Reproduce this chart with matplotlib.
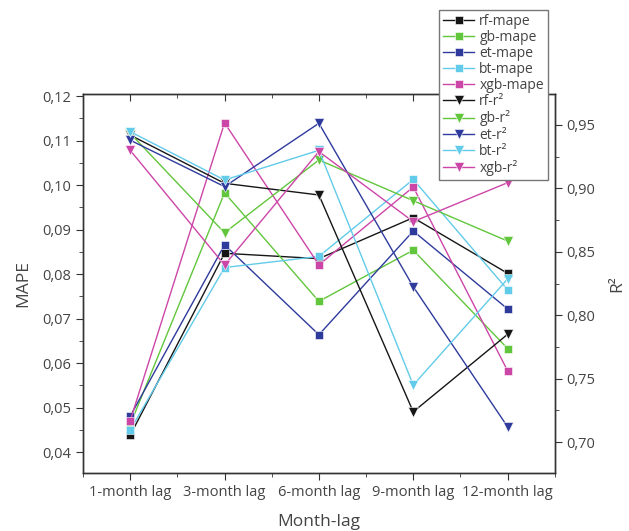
import matplotlib.pyplot as plt
from matplotlib.ticker import FuncFormatter, MultipleLocator

plt.rcParams['font.family'] = ['Open Sans', 'DejaVu Sans']

lags = ['1-month lag', '3-month lag', '6-month lag', '9-month lag', '12-month lag']
models = ['rf', 'gb', 'et', 'bt', 'xgb']
colors = ['#161616', '#62c63c', '#2e3b9c', '#62cbe9', '#cc46a8']

# MAPE (left axis)
rf_mape = [0.0438, 0.0847, 0.0835, 0.0927, 0.0802]
gb_mape = [0.0462, 0.0983, 0.0739, 0.0854, 0.0633]
et_mape = [0.0481, 0.0866, 0.0664, 0.0897, 0.0722]
bt_mape = [0.0450, 0.0815, 0.0840, 0.1013, 0.0765]
xgb_mape = [0.0471, 0.1140, 0.0821, 0.0996, 0.0583]

# R2 (right axis)
rf_r2 = [0.9420, 0.9040, 0.8948, 0.7239, 0.7850]
gb_r2 = [0.9434, 0.8650, 0.9224, 0.8903, 0.8585]
et_r2 = [0.9380, 0.9014, 0.9513, 0.8225, 0.7121]
bt_r2 = [0.9447, 0.9066, 0.9300, 0.7450, 0.8286]
xgb_r2 = [0.9300, 0.8396, 0.9290, 0.8738, 0.9045]

mape = [rf_mape, gb_mape, et_mape, bt_mape, xgb_mape]
r2 = [rf_r2, gb_r2, et_r2, bt_r2, xgb_r2]

x = list(range(1, len(lags) + 1))
tc = '#444444'

fig = plt.figure(figsize=(6.29, 5.31), dpi=100)
ax = fig.add_axes([0.132, 0.109, 0.75, 0.714])
ax2 = ax.twinx()

handles = []
for m, c, vals in zip(models, colors, mape):
    h, = ax.plot(x, vals, color=c, lw=1.0, marker='s', ms=6, mec='white', mew=0.4, label=m + '-mape')
    handles.append(h)
for m, c, vals in zip(models, colors, r2):
    h, = ax2.plot(x, vals, color=c, lw=1.0, marker='v', ms=7, mec='white', mew=0.4, label=m + '-r²')
    handles.append(h)

ax.set_xlim(0.5, 5.5)
ax.set_ylim(0.0353, 0.1205)
ax2.set_ylim(0.6756, 0.9744)
ax.set_xticks(x)
ax.set_xticklabels(lags)
ax.xaxis.set_minor_locator(MultipleLocator(0.5))
ax.yaxis.set_major_locator(MultipleLocator(0.01))
ax.yaxis.set_minor_locator(MultipleLocator(0.005))
ax2.yaxis.set_major_locator(MultipleLocator(0.05))
ax2.yaxis.set_minor_locator(MultipleLocator(0.025))
ax.yaxis.set_major_formatter(FuncFormatter(lambda v, p: f'{v:.2f}'.replace('.', ',')))
ax2.yaxis.set_major_formatter(FuncFormatter(lambda v, p: f'{v:.2f}'.replace('.', ',')))

ax.tick_params(axis='both', which='major', direction='out', length=5, color='#333333',
               labelcolor=tc, labelsize=10.5)
ax.tick_params(axis='both', which='minor', direction='out', length=3, color='#333333')
ax.tick_params(axis='x', which='both', top=True)
ax2.tick_params(axis='y', which='major', direction='out', length=5, color='#333333',
                labelcolor=tc, labelsize=10.5)
ax2.tick_params(axis='y', which='minor', direction='out', length=3, color='#333333')
# ticks on the top spine point inward
for t in ax.xaxis.get_major_ticks() + ax.xaxis.get_minor_ticks():
    t.tick2line.set_marker(3)

for a in (ax, ax2):
    for s in a.spines.values():
        s.set_color('#333333')
        s.set_linewidth(1.0)

ax.set_xlabel('Month-lag', fontsize=12.5, color=tc, labelpad=10)
ax.set_ylabel('MAPE', fontsize=12.5, color=tc, labelpad=8)
ax2.set_ylabel('R²', fontsize=12.5, color=tc, labelpad=10)

leg = fig.legend(handles=handles, loc='upper left', bbox_to_anchor=(0.687, 0.995),
                 fontsize=10, handlelength=2.2, handletextpad=0.4, labelspacing=0.08,
                 borderpad=0.3, fancybox=False, framealpha=1, edgecolor='#777777')
for t in leg.get_texts():
    t.set_color(tc)

fig.savefig('out.png', dpi=100)
